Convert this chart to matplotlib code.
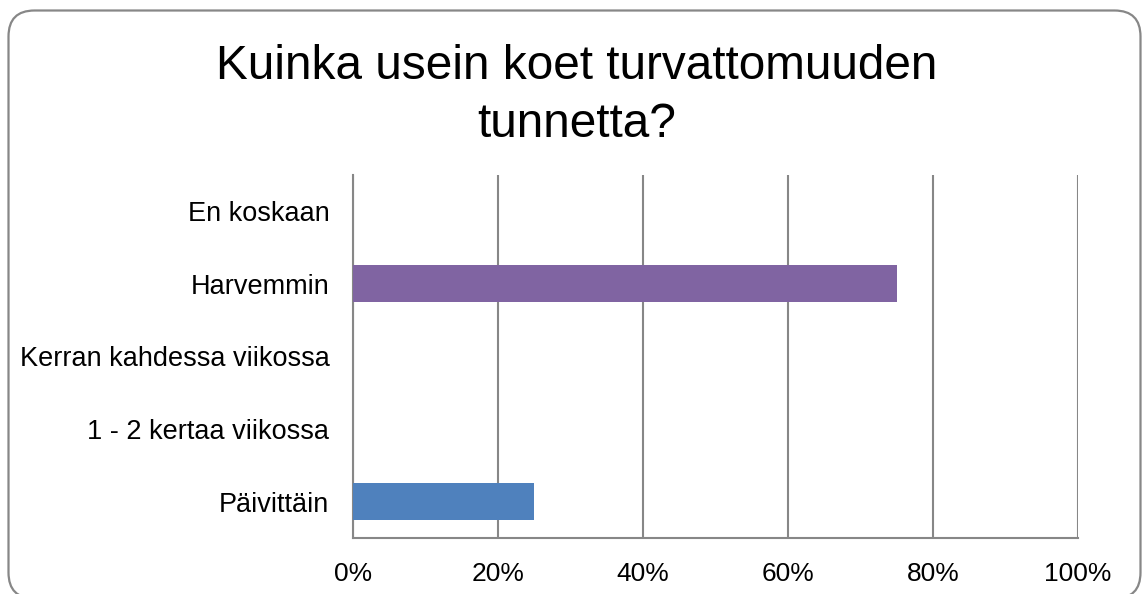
import matplotlib
matplotlib.use("Agg")
import matplotlib.pyplot as plt
from matplotlib.patches import FancyBboxPatch

plt.rcParams['font.family'] = ['Liberation Sans', 'DejaVu Sans']

categories = ["Päivittäin", "1 - 2 kertaa viikossa", "Kerran kahdessa viikossa",
              "Harvemmin", "En koskaan"]
values = [25, 0, 0, 75, 0]
bar_colors = ['#4F81BD', '#C0504D', '#9BBB59', '#8064A2', '#4BACC6']
xticks = [0, 20, 40, 60, 80, 100]
xtick_labels = ["0%", "20%", "40%", "60%", "80%", "100%"]
title = "Kuinka usein koet turvattomuuden\ntunnetta?"

W, H = 1143, 594
fig = plt.figure(figsize=(W / 100, H / 100), dpi=100)

# background frame
bg = fig.add_axes([0, 0, 1, 1], zorder=-10)
bg.set_xlim(0, W)
bg.set_ylim(H, 0)
bg.axis('off')
bg.add_patch(FancyBboxPatch((8.5, 10.5), 1132, 588,
                            boxstyle="round,pad=0,rounding_size=26",
                            facecolor='white', edgecolor='#878787', linewidth=1.6))

ax = fig.add_axes([353 / W, 1 - 538 / H, (1078 - 353) / W, (538 - 175) / H])
ax.patch.set_alpha(0)
y = range(len(categories))
ax.barh(y, values, height=0.51, color=bar_colors, zorder=3)
ax.set_xlim(0, 100)
ax.set_ylim(-0.5, len(categories) - 0.5)
ax.set_xticks(xticks)
ax.set_xticklabels(xtick_labels, fontsize=19)
ax.set_yticks(list(y))
ax.set_yticklabels(categories, fontsize=19.5)
ax.tick_params(axis='both', length=0)
ax.tick_params(axis='x', pad=17)
ax.tick_params(axis='y', pad=17)
ax.grid(axis='x', color='#878787', linewidth=1.5, zorder=1)
for s in ['top', 'right']:
    ax.spines[s].set_visible(False)
for s in ['left', 'bottom']:
    ax.spines[s].set_color('#878787')
    ax.spines[s].set_linewidth(1.5)

fig.text(577 / W, 1 - 95.5 / H, title, ha='center', va='center',
         fontsize=34.4, linespacing=1.37)

fig.savefig("out.png", dpi=100)
